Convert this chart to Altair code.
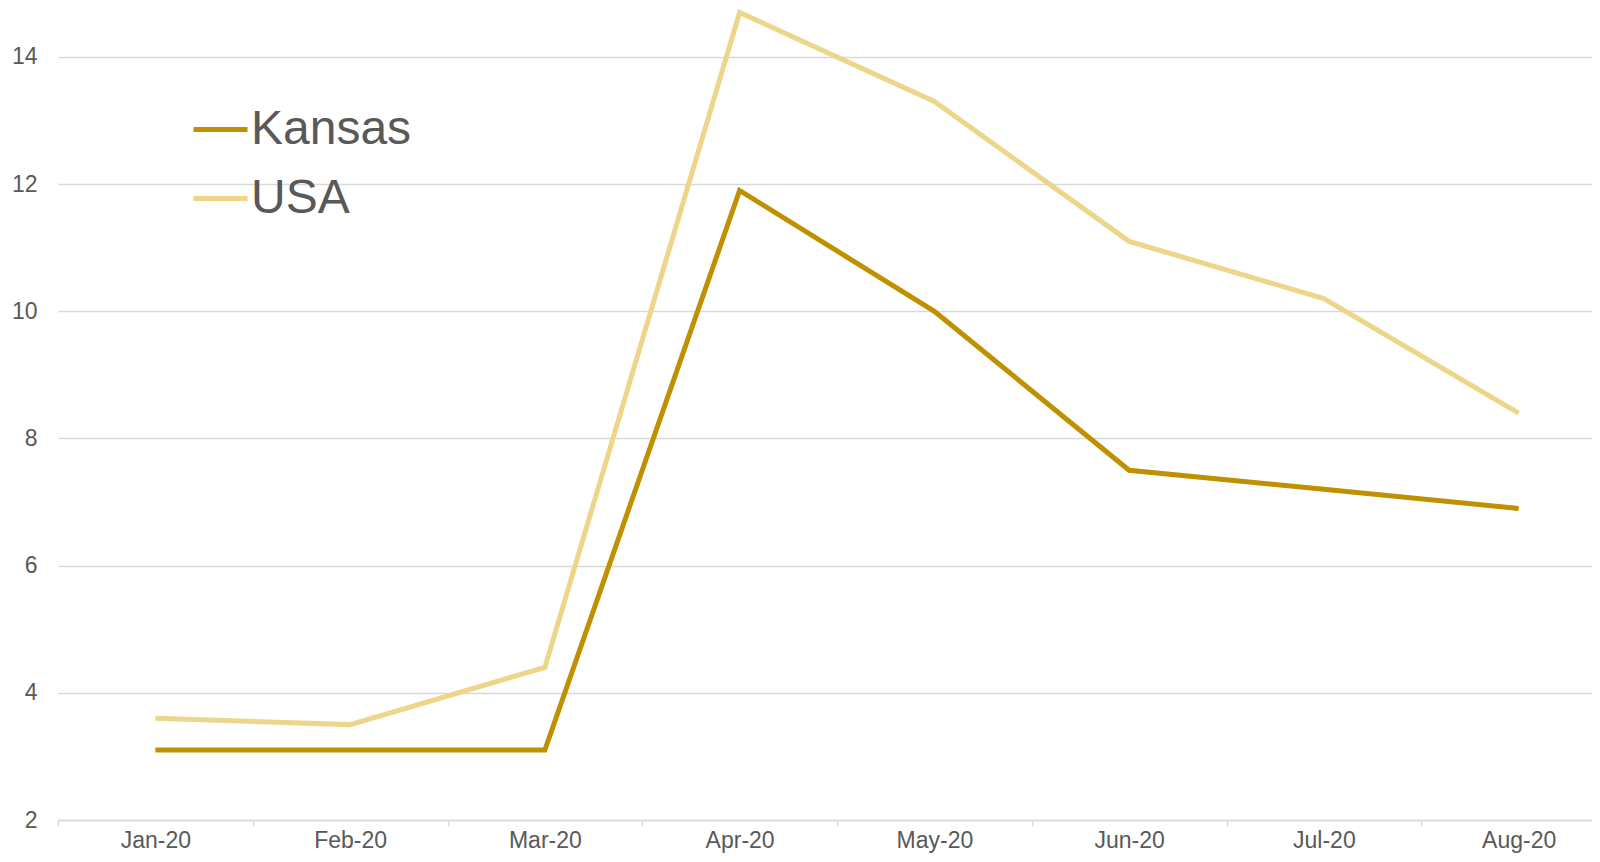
import altair as alt
import pandas as pd

months = ["Jan-20", "Feb-20", "Mar-20", "Apr-20", "May-20", "Jun-20", "Jul-20", "Aug-20"]
kansas = [3.1, 3.1, 3.1, 11.9, 10.0, 7.5, 7.2, 6.9]
usa = [3.6, 3.5, 4.4, 14.7, 13.3, 11.1, 10.2, 8.4]
series = ["Kansas", "USA"]
colors = ["#BF9000", "#EDD58A"]
y_ticks = [2, 4, 6, 8, 10, 12, 14]

df = pd.DataFrame({
    "month": months * 2,
    "value": kansas + usa,
    "series": ["Kansas"] * len(months) + ["USA"] * len(months),
})

chart = alt.Chart(df).mark_line(strokeWidth=5).encode(
    x=alt.X(
        "month:N",
        sort=months,
        scale=alt.Scale(type="band", range=[0, 1558], paddingInner=0, paddingOuter=0),
        axis=alt.Axis(
            title=None, labelAngle=0, tickBand="extent", grid=False,
            domainColor="#D9D9D9", domainWidth=1.5, tickColor="#D9D9D9", tickWidth=1.5, tickSize=6,
            labelFontSize=23, labelColor="#595959", labelPadding=3,
        ),
    ),
    y=alt.Y(
        "value:Q",
        scale=alt.Scale(domain=[2, 14.77], nice=False, zero=False),
        axis=alt.Axis(
            title=None, values=y_ticks, domain=False, ticks=False,
            gridColor="#D9D9D9", gridWidth=1.5,
            labelFontSize=23, labelColor="#595959", labelPadding=21,
        ),
    ),
    color=alt.Color(
        "series:N",
        scale=alt.Scale(domain=series, range=colors),
        legend=alt.Legend(
            title=None, orient="none", legendX=133, legendY=92,
            symbolType="stroke", symbolStrokeWidth=5, symbolSize=2916,
            labelFontSize=48, labelColor="#595959", labelOffset=1, rowPadding=15,
            labelLimit=500,
        ),
    ),
).properties(
    width=1534,
    height=812,
    autosize=alt.AutoSizeParams(type="none"),
    padding={"left": 50, "top": 0, "right": 0, "bottom": 34},
).configure(font="Liberation Sans").configure_view(stroke=None)

chart.save("out.html", embed_options={"renderer": "svg", "actions": False})
